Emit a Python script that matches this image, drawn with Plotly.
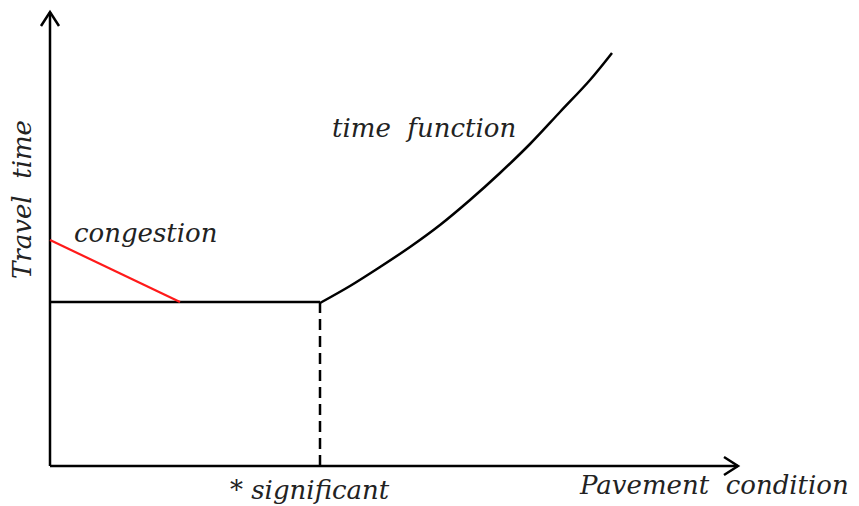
import plotly.graph_objects as go

# Data (in chart units; origin at the axes corner)
base_x = [0, 270]
base_y = [164, 164]
congestion_x = [0, 130]
congestion_y = [226, 164]
threshold_x = [270, 270]
threshold_y = [0, 164]
curve_x = [270, 300, 330, 360, 390, 420, 450, 480, 510, 540, 562]
curve_y = [163, 180, 199, 219, 241, 266, 293, 322, 354, 386, 413]
x_axis_end = 688
y_axis_end = 454

labels = {
    "congestion": (22, 233),
    "time  function": (280, 338),
    "* significant": (178, -24),
    "Pavement  condition": (527, -19),
}

FONT = dict(family="DejaVu Serif", size=26, color="#222222")

fig = go.Figure()
fig.add_trace(go.Scatter(x=[0, x_axis_end], y=[0, 0], mode="lines",
                         line=dict(color="black", width=2.5)))
fig.add_trace(go.Scatter(x=[0, 0], y=[0, y_axis_end], mode="lines",
                         line=dict(color="black", width=2.5)))
fig.add_trace(go.Scatter(x=base_x, y=base_y, mode="lines",
                         line=dict(color="black", width=2.5)))
fig.add_trace(go.Scatter(x=congestion_x, y=congestion_y, mode="lines",
                         line=dict(color="#ff1a1a", width=2.2)))
fig.add_trace(go.Scatter(x=threshold_x, y=threshold_y, mode="lines",
                         line=dict(color="black", width=2.5, dash="11px,6px")))
fig.add_trace(go.Scatter(x=curve_x, y=curve_y, mode="lines", line_shape="spline",
                         line=dict(color="black", width=2.5, smoothing=1.0)))

# arrow heads (open chevrons)
a = 9
fig.add_shape(type="path",
              path=f"M {x_axis_end - 14},{a} L {x_axis_end},0 L {x_axis_end - 14},{-a}",
              line=dict(color="black", width=2.5))
fig.add_shape(type="path",
              path=f"M {-a},{y_axis_end - 14} L 0,{y_axis_end} L {a},{y_axis_end - 14}",
              line=dict(color="black", width=2.5))

for text, (x, y) in labels.items():
    fig.add_annotation(x=x, y=y, text=f"<i>{text}</i>", showarrow=False,
                       xanchor="left", yanchor="middle", font=FONT)
fig.add_annotation(x=-28, y=266, text="<i>Travel  time</i>", showarrow=False,
                   textangle=-90, xanchor="center", yanchor="middle", font=FONT)

# page body has an 8px margin, so the figure is 8px smaller and ranges shifted
fig.update_layout(
    width=851, height=498, margin=dict(l=0, r=0, t=0, b=0),
    paper_bgcolor="white", plot_bgcolor="white", showlegend=False,
    xaxis=dict(range=[-42, 809], visible=False, fixedrange=True),
    yaxis=dict(range=[-40, 458], visible=False, fixedrange=True),
)
fig.write_html("out.html")
